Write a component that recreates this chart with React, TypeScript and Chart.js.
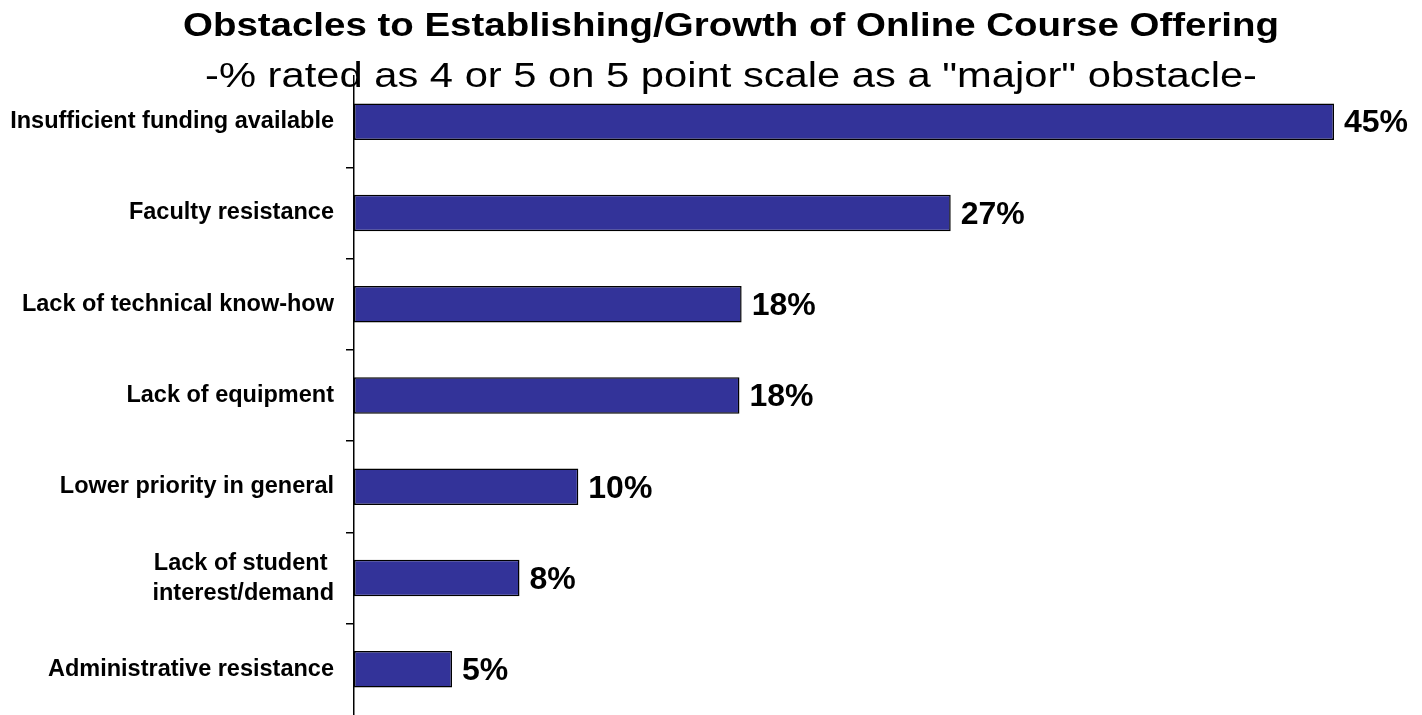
import React, { useEffect, useRef } from "react";
import { Chart, registerables } from "chart.js";

Chart.register(...registerables);

const titleText = "Obstacles to Establishing/Growth of Online Course Offering";
const subtitleText = '-% rated as 4 or 5 on 5 point scale as a "major" obstacle-';

const categories: (string | string[])[] = [
  "Insufficient funding available",
  "Faculty resistance",
  "Lack of technical know-how",
  "Lack of equipment",
  "Lower priority in general",
  ["Lack of student ", "interest/demand"],
  "Administrative resistance",
];

const values = [45, 27.4, 17.8, 17.7, 10.3, 7.6, 4.5];

const FONT = "'Liberation Sans', Arial, Helvetica, sans-serif";

function drawFitted(ctx: any, text: string, font: string, cx: number, baseline: number, targetWidth: number) {
  ctx.font = font;
  const w = ctx.measureText(text).width;
  const sx = targetWidth / w;
  ctx.save();
  ctx.translate(cx, baseline);
  ctx.scale(sx, 1);
  ctx.fillText(text, 0, 0);
  ctx.restore();
}

const headerPlugin = {
  id: "header",
  beforeDraw(chart: any) {
    const ctx = chart.ctx;
    ctx.save();
    ctx.fillStyle = "#000";
    ctx.textAlign = "center";
    ctx.textBaseline = "alphabetic";
    drawFitted(ctx, titleText, `bold 34px ${FONT}`, 731, 36, 1096);
    drawFitted(ctx, subtitleText, `35px ${FONT}`, 731, 87, 1052);
    ctx.restore();
  },
};

const valueLabelPlugin = {
  id: "valueLabels",
  afterDatasetsDraw(chart: any) {
    const ctx = chart.ctx;
    const meta = chart.getDatasetMeta(0);
    ctx.save();
    ctx.fillStyle = "#000";
    ctx.font = `bold 32px ${FONT}`;
    ctx.textAlign = "left";
    ctx.textBaseline = "middle";
    meta.data.forEach((bar: any, i: number) => {
      const v = chart.data.datasets[0].data[i] as number;
      ctx.fillText(`${Math.round(v)}%`, bar.x + 10, bar.y + 2);
    });
    ctx.restore();
  },
};

export default function App() {
  const canvasRef = useRef<HTMLCanvasElement | null>(null);

  useEffect(() => {
    if (!canvasRef.current) return;
    const chart = new Chart(canvasRef.current, {
      type: "bar",
      data: {
        labels: categories,
        datasets: [
          {
            data: values,
            backgroundColor: "#333399",
            borderColor: "#000000",
            borderWidth: 1.5,
            borderSkipped: false,
            barPercentage: 0.4,
            categoryPercentage: 1,
          },
        ],
      },
      options: {
        indexAxis: "y",
        animation: false,
        responsive: false,
        maintainAspectRatio: false,
        devicePixelRatio: 1,
        layout: { padding: { top: 76, right: 88, bottom: 0, left: 0 } },
        plugins: {
          legend: { display: false },
          tooltip: { enabled: false },
          title: { display: false },
        },
        scales: {
          x: {
            display: false,
            min: 0,
            max: 45,
          },
          y: {
            afterFit: (scale: any) => {
              scale.width = 354;
              scale.paddingTop = 0;
              scale.paddingBottom = 0;
            },
            grid: {
              offset: true,
              drawOnChartArea: false,
              drawTicks: true,
              tickLength: 8,
              lineWidth: 1.5,
              color: (ctx: any) =>
                ctx.index === undefined || ctx.index === 0 ? "rgba(0,0,0,0)" : "#000",
            },
            border: { display: true, color: "#000", width: 1.5 },
            ticks: {
              color: "#000",
              padding: 12,
              font: { family: FONT, size: 23.5, weight: "bold", lineHeight: 1.28 },
            },
          },
        },
      },
      plugins: [headerPlugin, valueLabelPlugin],
    });
    return () => chart.destroy();
  }, []);

  return (
    <div style={{ position: "absolute", left: 0, top: 0, width: 1422, height: 715, background: "#fff" }}>
      <canvas ref={canvasRef} width={1422} height={715} />
    </div>
  );
}
